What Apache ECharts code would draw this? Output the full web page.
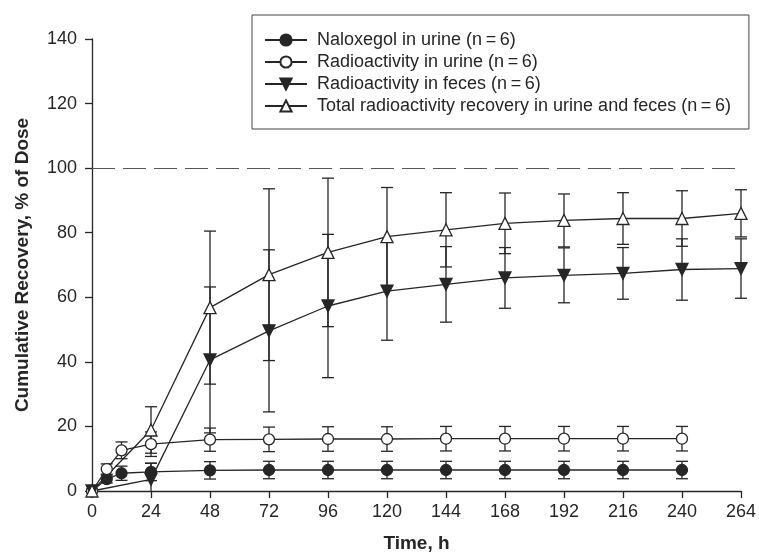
<!DOCTYPE html>
<html>
<head>
<meta charset="utf-8">
<script src="https://cdn.jsdelivr.net/npm/echarts@6/dist/echarts.min.js"></script>
<style>
    html, body { margin: 0; padding: 0; background: #fff; }
    #chart { width: 759px; height: 558px; }
</style>
</head>
<body>
<div id="chart"></div>
<script>
// sampling times (h)
let urineTimes = [0, 6, 12, 24, 48, 72, 96, 120, 144, 168, 192, 216, 240];
let fecesTimes = [0, 24, 48, 72, 96, 120, 144, 168, 192, 216, 240, 264];

// mean and SD, % of dose
let naloxegolUrine = [0, 3.7, 5.5, 5.9, 6.4, 6.5, 6.5, 6.5, 6.5, 6.5, 6.5, 6.5, 6.5];
let naloxegolUrineSd = [0, 1.2, 2.2, 2.7, 2.7, 2.7, 2.7, 2.7, 2.7, 2.7, 2.7, 2.7, 2.7];
let radioUrine = [0, 6.8, 12.6, 14.5, 15.9, 16.0, 16.1, 16.1, 16.2, 16.2, 16.2, 16.2, 16.2];
let radioUrineSd = [0, 1.6, 2.6, 3.8, 3.6, 3.8, 3.8, 3.8, 3.8, 3.8, 3.8, 3.8, 3.8];
let radioFeces = [0, 3.6, 40.6, 49.6, 57.3, 61.9, 64.0, 66.0, 66.8, 67.4, 68.6, 68.9];
let radioFecesSd = [0, 5.0, 22.6, 25.1, 22.2, 15.2, 11.7, 9.4, 8.5, 8.0, 9.5, 9.2];
let totalRecovery = [0, 18.9, 56.8, 67.0, 73.9, 78.8, 80.9, 82.9, 83.8, 84.4, 84.4, 86.0];
let totalRecoverySd = [0, 7.2, 23.7, 26.6, 23.0, 15.2, 11.5, 9.4, 8.2, 8.0, 8.6, 7.3];

let xTicks = { min: 0, max: 264, interval: 24 };
let yTicks = { min: 0, max: 140, interval: 20 };
let completeLine = 100;

let names = [
    'Naloxegol in urine (n\u2009=\u20096)',
    'Radioactivity in urine (n\u2009=\u20096)',
    'Radioactivity in feces (n\u2009=\u20096)',
    'Total radioactivity recovery in urine and feces (n\u2009=\u20096)'
];

const ink = '#262626';
const font = 'Liberation Sans, Arial, sans-serif';

function pairs(xs, ys) {
    return xs.map((x, i) => [x, ys[i]]);
}
function triples(xs, ys, sds) {
    return xs.map((x, i) => [x, ys[i], sds[i]]);
}

// vertical SD bar with caps
function renderErr(params, api) {
    let x = api.value(0);
    let y = api.value(1);
    let sd = api.value(2);
    if (!sd) return;
    let lowVal = Math.max(y - sd, 0);
    let top = api.coord([x, y + sd]);
    let bot = api.coord([x, lowVal]);
    let w = 6;
    let style = { stroke: ink, lineWidth: 1.3 };
    let children = [
        { type: 'line', shape: { x1: top[0], y1: top[1], x2: bot[0], y2: bot[1] }, style: style },
        { type: 'line', shape: { x1: top[0] - w, y1: top[1], x2: top[0] + w, y2: top[1] }, style: style }
    ];
    if (y - sd > 0) {
        children.push({ type: 'line', shape: { x1: bot[0] - w, y1: bot[1], x2: bot[0] + w, y2: bot[1] }, style: style });
    }
    return { type: 'group', children: children };
}

function errSeries(xs, ys, sds) {
    return {
        type: 'custom',
        renderItem: renderErr,
        data: triples(xs, ys, sds),
        encode: { x: 0, y: 1 },
        z: 1,
        silent: true
    };
}

function lineSeries(name, xs, ys, symbol, filled, rotate, size) {
    return {
        name: name,
        type: 'line',
        data: pairs(xs, ys),
        symbol: symbol,
        symbolSize: size,
        symbolRotate: rotate,
        showAllSymbol: true,
        z: 3,
        lineStyle: { color: ink, width: 1.3 },
        itemStyle: {
            color: filled ? ink : '#ffffff',
            borderColor: ink,
            borderWidth: 1.3
        },
        emphasis: { disabled: true }
    };
}

let myChart = echarts.init(document.getElementById('chart'));
let series = [
    errSeries(urineTimes, naloxegolUrine, naloxegolUrineSd),
    errSeries(urineTimes, radioUrine, radioUrineSd),
    errSeries(fecesTimes, radioFeces, radioFecesSd),
    errSeries(fecesTimes, totalRecovery, totalRecoverySd),
    lineSeries(names[0], urineTimes, naloxegolUrine, 'circle', true, 0, 11),
    lineSeries(names[1], urineTimes, radioUrine, 'circle', false, 0, 11),
    lineSeries(names[2], fecesTimes, radioFeces, 'triangle', true, 180, 12),
    lineSeries(names[3], fecesTimes, totalRecovery, 'triangle', false, 0, 12)
];
// dashed 100% reference
series[4].markLine = {
    silent: true,
    symbol: 'none',
    label: { show: false },
    lineStyle: { color: '#555', type: [23, 8], width: 1.2 },
    data: [{ yAxis: completeLine }]
};

myChart.setOption({
    animation: false,
    backgroundColor: '#fff',
    grid: { left: 92, right: 16, top: 39, bottom: 63, containLabel: false },
    legend: {
        data: names,
        orient: 'vertical',
        left: 252,
        top: 15,
        padding: [15, 18, 13, 12],
        itemGap: 2,
        itemWidth: 42,
        itemHeight: 14,
        borderColor: '#444',
        borderWidth: 1,
        selectedMode: false,
        textStyle: { fontFamily: font, fontSize: 18, color: ink, lineHeight: 20, padding: [0, 0, 0, 5] }
    },
    xAxis: {
        type: 'value',
        min: xTicks.min,
        max: xTicks.max,
        interval: xTicks.interval,
        name: 'Time, h',
        nameLocation: 'middle',
        nameGap: 43,
        nameTextStyle: { fontFamily: font, fontSize: 19, fontWeight: 'bold', color: ink },
        axisLine: { show: true, onZero: false, lineStyle: { color: ink, width: 1.3 } },
        axisTick: { show: true, length: 7, lineStyle: { color: ink, width: 1.3 } },
        axisLabel: { fontFamily: font, fontSize: 18, color: ink, margin: 12 },
        splitLine: { show: false }
    },
    yAxis: {
        type: 'value',
        min: yTicks.min,
        max: yTicks.max,
        interval: yTicks.interval,
        name: 'Cumulative Recovery, % of Dose',
        nameLocation: 'middle',
        nameGap: 60,
        nameTextStyle: { fontFamily: font, fontSize: 19, fontWeight: 'bold', color: ink },
        axisLine: { show: true, onZero: false, lineStyle: { color: ink, width: 1.3 } },
        axisTick: { show: true, length: 7, lineStyle: { color: ink, width: 1.3 } },
        axisLabel: { fontFamily: font, fontSize: 18, color: ink, margin: 15 },
        splitLine: { show: false }
    },
    series: series
});
</script>
</body>
</html>
